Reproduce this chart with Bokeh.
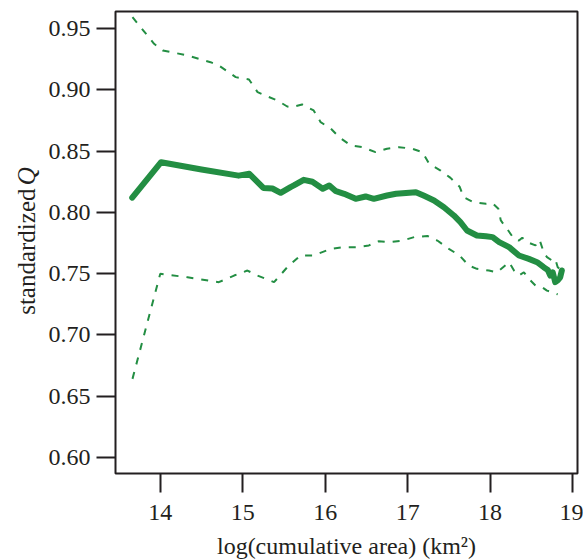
import math
from bokeh.plotting import figure
from bokeh.models import Range1d, FixedTicker, Label, CustomJSTickFormatter
from bokeh.embed import file_html
from bokeh.resources import INLINE

# ---- data ----
main_x = [13.66, 14.01, 14.50, 14.95, 15.08, 15.25, 15.36, 15.46, 15.58, 15.62, 15.74, 15.845,
          15.97, 16.05, 16.13, 16.23, 16.37, 16.49, 16.59, 16.75, 16.86, 17.10, 17.20, 17.32,
          17.44, 17.56, 17.64, 17.72, 17.84, 17.95, 18.03, 18.11, 18.23, 18.35, 18.47, 18.57,
          18.65, 18.70, 18.73, 18.76, 18.79, 18.82, 18.85, 18.87]
main_y = [0.812, 0.841, 0.835, 0.830, 0.8315, 0.820, 0.8195, 0.816, 0.8206, 0.822, 0.8266, 0.825,
          0.8193, 0.822, 0.8173, 0.8152, 0.8111, 0.813, 0.8111, 0.8138, 0.8152, 0.8165, 0.8135, 0.8097,
          0.8042, 0.7975, 0.792, 0.7852, 0.7811, 0.7805, 0.7798, 0.7757, 0.7716, 0.7648, 0.762, 0.7593,
          0.7552, 0.7530, 0.7484, 0.7510, 0.743, 0.7445, 0.747, 0.7525]

upper_x = [13.663, 13.925, 14.03, 14.33, 14.61, 14.71, 14.915, 15.076, 15.18, 15.30, 15.42, 15.54,
           15.60, 15.72, 15.86, 15.945, 16.07, 16.17, 16.31, 16.45, 16.61, 16.75, 16.895, 17.057,
           17.18, 17.26, 17.40, 17.52, 17.63, 17.68, 17.80, 17.95, 18.03, 18.10, 18.13, 18.22,
           18.29, 18.35, 18.39, 18.45, 18.55, 18.60, 18.65, 18.69, 18.75, 18.79, 18.82, 18.87]
upper_y = [0.9595, 0.9377, 0.9323, 0.9282, 0.9227, 0.920, 0.9105, 0.9086, 0.8982, 0.8947, 0.8914, 0.8865,
           0.886, 0.8882, 0.8833, 0.8737, 0.8683, 0.8614, 0.8547, 0.8533, 0.8492, 0.852, 0.8533, 0.852,
           0.8492, 0.8397, 0.8342, 0.8282, 0.821, 0.8124, 0.8083, 0.807, 0.8075, 0.803, 0.7934, 0.7852,
           0.7784, 0.777, 0.7793, 0.7757, 0.773, 0.7776, 0.7675, 0.7634, 0.7607, 0.762, 0.7552, 0.7525]

lower_x = [13.663, 14.0, 14.33, 14.71, 14.895, 15.057, 15.18, 15.38, 15.54, 15.70, 15.86, 16.07,
           16.21, 16.39, 16.53, 16.65, 16.77, 16.94, 17.08, 17.24, 17.36, 17.50, 17.63, 17.74,
           17.84, 17.985, 18.085, 18.23, 18.29, 18.35, 18.41, 18.47, 18.55, 18.63, 18.69, 18.75,
           18.82]
lower_y = [0.664, 0.7498, 0.747, 0.743, 0.7484, 0.7525, 0.7484, 0.743, 0.7552, 0.7648, 0.7648, 0.7702,
           0.7716, 0.7716, 0.773, 0.7765, 0.7757, 0.777, 0.7798, 0.7808, 0.777, 0.7702, 0.7648, 0.7566,
           0.7539, 0.7525, 0.7511, 0.7593, 0.7525, 0.7484, 0.7511, 0.7457, 0.7402, 0.7389, 0.7361, 0.7348,
           0.733]

x_ticks = [14, 15, 16, 17, 18, 19]
y_ticks = [0.60, 0.65, 0.70, 0.75, 0.80, 0.85, 0.90, 0.95]

GREEN = "#238E43"
INK = "#231F20"
FONT = "Liberation Serif"
FS = "24px"
FS_Y = "25px"

p = figure(width=583, height=559, output_backend="svg", toolbar_location=None,
           x_range=Range1d(13.457, 19.06), y_range=Range1d(0.5867, 0.9641),
           min_border_left=115, min_border_right=6, min_border_top=11, min_border_bottom=86)
p.background_fill_color = "white"
p.border_fill_color = "white"
p.outline_line_color = INK
p.outline_line_width = 2
p.xgrid.visible = False
p.ygrid.visible = False

p.line(upper_x, upper_y, line_color=GREEN, line_width=2, line_dash="7 8")
p.line(lower_x, lower_y, line_color=GREEN, line_width=2, line_dash="7 8")
p.line(main_x, main_y, line_color=GREEN, line_width=6, line_cap="round", line_join="round")

for ax, ticks in ((p.xaxis, x_ticks), (p.yaxis, y_ticks)):
    ax.ticker = FixedTicker(ticks=ticks)
    ax.minor_tick_line_color = None
    ax.axis_line_color = None
    ax.major_tick_line_color = INK
    ax.major_tick_line_width = 2
    ax.major_tick_in = 0
    ax.major_tick_out = 19
    ax.major_label_text_font = FONT
    ax.major_label_text_font_size = FS
    ax.major_label_text_color = INK
    # blank axis label with negative standoff: gives back the room taken by the title labels
    ax.axis_label = " "
    ax.axis_label_text_font_size = FS

p.xaxis.major_label_standoff = 12
p.yaxis.major_label_standoff = 6
p.xaxis.axis_label_standoff = -40
p.yaxis.axis_label_standoff = -50
p.yaxis.formatter = CustomJSTickFormatter(code="return tick.toFixed(2);")

# axis titles as labels in the side panels (data-unit positions)
p.add_layout(Label(x=16.2585, y=0.5275, text="log(cumulative area) (km²)",
                   text_align="center", text_baseline="alphabetic", text_font=FONT,
                   text_font_size=FS, text_color=INK), "below")
p.add_layout(Label(x=12.378, y=0.8195, text="standardized", angle=math.pi / 2,
                   text_align="right", text_baseline="middle", text_font=FONT,
                   text_font_size=FS_Y, text_color=INK), "left")
p.add_layout(Label(x=12.378, y=0.8222, text="Q", angle=math.pi / 2,
                   text_align="left", text_baseline="middle", text_font=FONT,
                   text_font_size=FS_Y, text_font_style="italic", text_color=INK), "left")

open("out.html", "w").write(file_html(p, INLINE))
